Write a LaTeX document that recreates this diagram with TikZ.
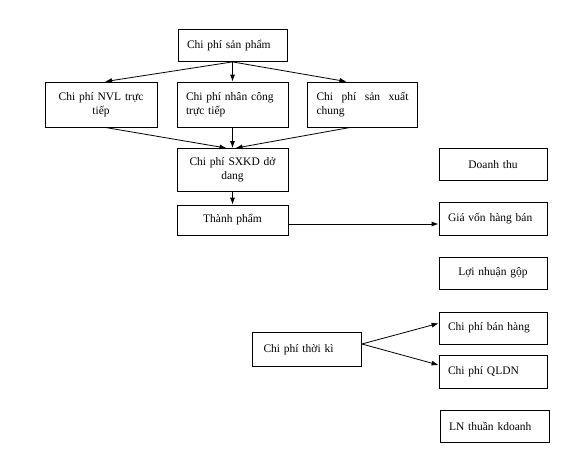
\documentclass[tikz,border=0pt]{standalone}
\usepackage{fontspec}
\setmainfont{Liberation Serif}
\usetikzlibrary{arrows.meta}

\begin{document}
\begin{tikzpicture}
		[x=1pt, y=-1pt,
		boxsty/.style={draw, line width=0.8pt, inner xsep=9pt, inner ysep=2pt,
			minimum height=32pt, font=\fontsize{11.5}{14}\selectfont},
		arrsty/.style={draw, line width=0.8pt, -{Latex[length=7pt,width=5pt]}}]
		\useasboundingbox (0,0) rectangle (588,455);
		
		\node (sp) at (232.5,45.5) [boxsty, text width=91pt, align=left] {Chi phí sản phẩm};
		\node (nvl) at (101,104.5) [boxsty, text width=94pt, minimum height=45pt, align=center] {Chi phí NVL trực\\tiếp};
		\node (nc) at (232.5,104.5) [boxsty, text width=93pt, minimum height=45pt, align=left] {Chi phí nhân công\\trực tiếp};
		\node (sxc) at (362.5,104.5) [boxsty, text width=92pt, minimum height=45pt, align=left] {Chi\hfill phí\hfill sản\hfill xuất\\chung};
		\node (sxkd) at (232.5,170) [boxsty, text width=93pt, minimum height=43pt, align=center] {Chi phí SXKD dở\\dang};
		\node (tp) at (232.5,220) [boxsty, text width=93pt, minimum height=30pt, align=center] {Thành phẩm};
		
		\node (dt) at (493,164.5) [boxsty, text width=90pt, align=center] {Doanh thu};
		\node (gv) at (493,219) [boxsty, text width=90pt, minimum height=33pt, align=left] {Giá vốn hàng bán};
		\node (lng) at (493,273) [boxsty, text width=90pt, align=center] {Lợi nhuận gộp};
		\node (bh) at (493,328) [boxsty, text width=90pt, align=left] {Chi phí bán hàng};
		\node (ql) at (493,371.5) [boxsty, text width=90pt, minimum height=33pt, align=left] {Chi phí QLDN};
		\node (lnt) at (494.5,426) [boxsty, text width=91pt, align=left] {LN thuần kdoanh};
		\node (tk) at (307,349.7) [boxsty, inner xsep=11pt, text width=87pt, minimum height=34pt, align=left] {Chi phí thời kì};
		
		\draw[arrsty] (sp.south) -- ([xshift=4pt]nvl.north);
		\draw[arrsty] (sp.south) -- (nc.north);
		\draw[arrsty] (sp.south) -- ([xshift=-16pt]sxc.north);
		\draw[arrsty] ([xshift=4pt]nvl.south) -- ([xshift=-6pt]sxkd.north);
		\draw[arrsty] (nc.south) -- (sxkd.north);
		\draw[arrsty] ([xshift=-12pt]sxc.south) -- ([xshift=3pt]sxkd.north);
		\draw[arrsty] (sxkd.south) -- (tp.north);
		\draw[arrsty] ([yshift=-4pt]tp.east) -- ([yshift=-4pt]tp.east -| gv.west);
		\draw[arrsty] ([yshift=5.7pt]tk.east) -- ([yshift=4.7pt]bh.west);
		\draw[arrsty] ([yshift=5.7pt]tk.east) -- ([yshift=6.5pt]ql.west);
	\end{tikzpicture}
\end{document}
